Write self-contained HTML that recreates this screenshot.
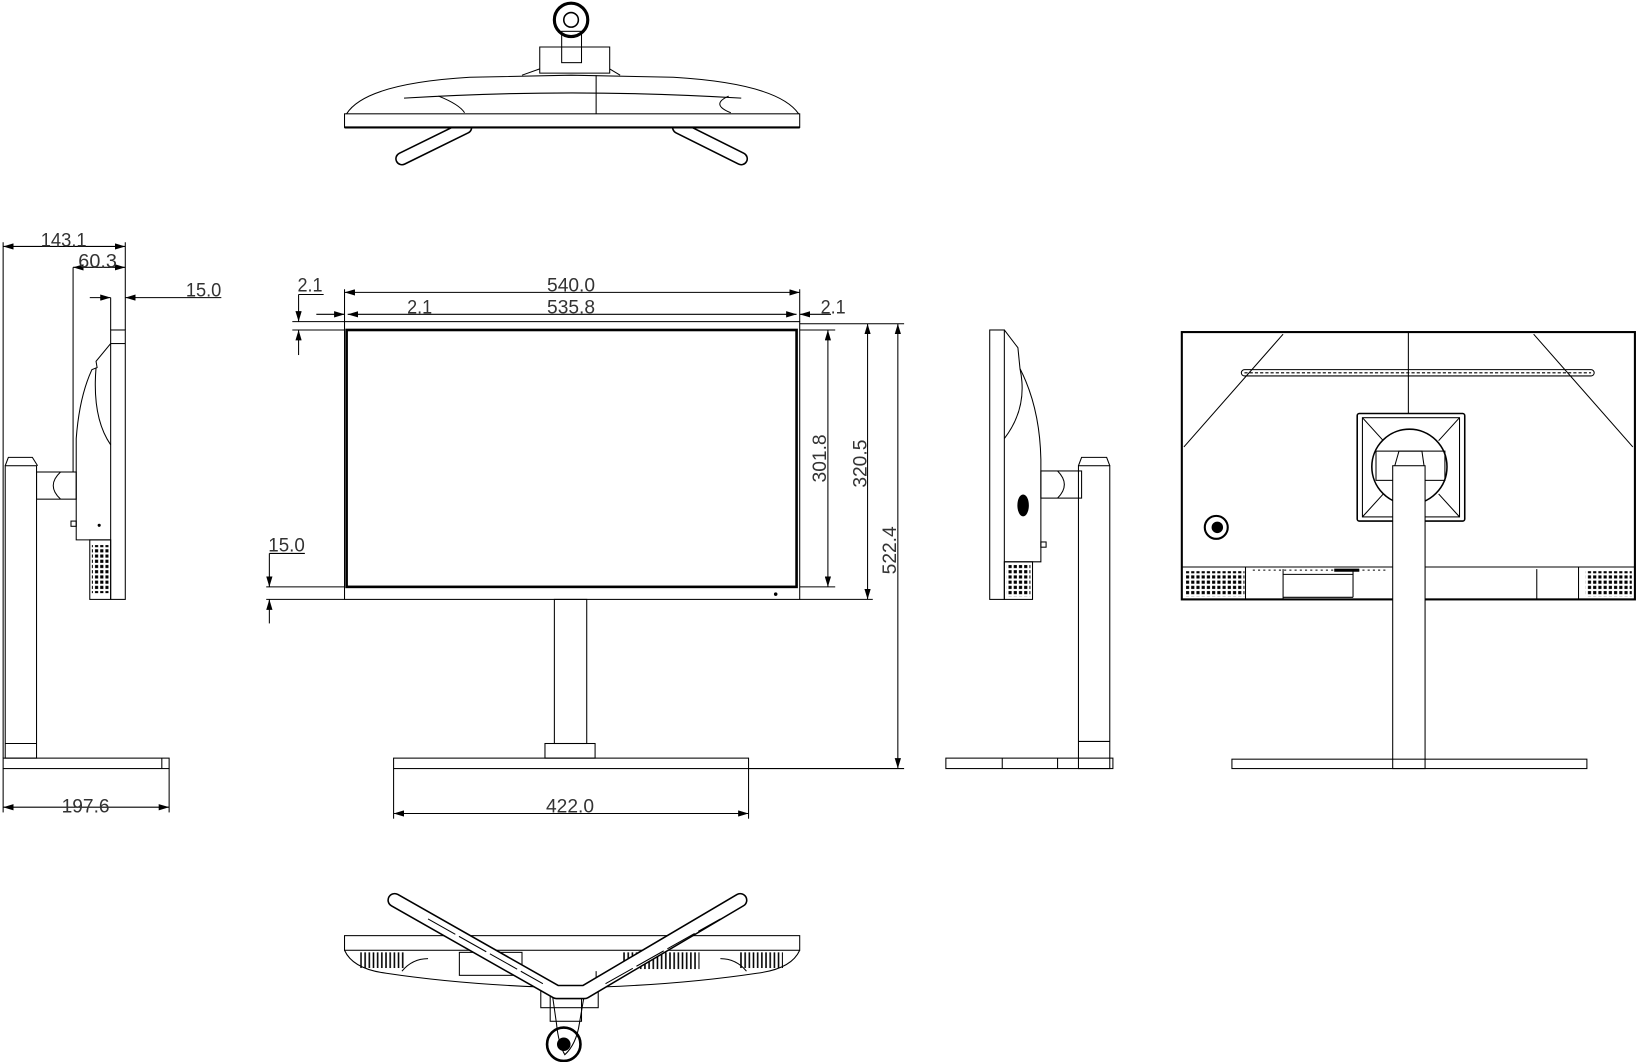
<!DOCTYPE html>
<html><head><meta charset="utf-8"><style>
html,body{margin:0;padding:0;background:#fff;width:1637px;height:1062px;overflow:hidden}
svg{display:block}
text{font-family:"Liberation Sans",sans-serif;font-size:19px;fill:#333}
</style></head><body>
<svg width="1637" height="1062" viewBox="0 0 1568 1017" preserveAspectRatio="none" xmlns="http://www.w3.org/2000/svg">
<defs>
<marker id="a" viewBox="0 0 10 6" refX="10" refY="3" markerWidth="10" markerHeight="6" orient="auto-start-reverse" markerUnits="userSpaceOnUse"><path d="M0,0L10,3L0,6z" fill="#000"/></marker>
<pattern id="dots" width="5" height="5" patternUnits="userSpaceOnUse"><rect x="1" y="1" width="3" height="3" fill="#000"/></pattern>
<pattern id="vl" width="4" height="5" patternUnits="userSpaceOnUse"><rect x="1" y="0" width="1.5" height="5" fill="#000"/></pattern>
</defs>
<g fill="none" stroke="#000" stroke-width="1">

<!-- TOP VIEW -->
<path d="M446 122 L385 152" stroke-width="13" stroke-linecap="round"/>
<path d="M446 122 L385 152" stroke-width="10" stroke-linecap="round" stroke="#fff"/>
<path d="M650 122 L710 152" stroke-width="13" stroke-linecap="round"/>
<path d="M650 122 L710 152" stroke-width="10" stroke-linecap="round" stroke="#fff"/>
<circle cx="547" cy="19" r="16" stroke-width="3"/>
<circle cx="547" cy="19" r="7" stroke-width="1.5"/>
<rect x="538" y="30" width="19" height="30"/>
<path d="M517 45 H584 V70 H517 Z"/>
<path d="M500 72 L517 66 M594 72 L584 66"/>
<path d="M332 109 Q350 80 450 74 L547 72 L645 74 Q745 80 765 109"/>
<path d="M387 94 Q547 84 710 94"/>
<path d="M420 92 Q440 100 445 108 M698 92 Q680 100 700 108"/>
<line x1="571" y1="72" x2="571" y2="109"/>
<rect x="330" y="109" width="436" height="13" fill="#fff"/>
<line x1="330" y1="122" x2="766" y2="122" stroke-width="2"/>

<!-- FRONT VIEW -->
<rect x="330" y="308" width="436" height="266"/>
<rect x="332" y="316" width="431" height="246" stroke-width="2.5"/>
<circle cx="743" cy="569" r="1.2" fill="#000"/>
<rect x="531" y="574" width="31" height="138"/>
<rect x="522" y="712" width="48" height="14"/>
<rect x="377" y="726" width="340" height="10"/>

<!-- dims front -->
<line x1="330" y1="280" x2="766" y2="280" marker-start="url(#a)" marker-end="url(#a)"/>
<line x1="330" y1="277" x2="330" y2="308"/>
<line x1="766" y1="277" x2="766" y2="308"/>
<line x1="333" y1="301" x2="763" y2="301" marker-start="url(#a)" marker-end="url(#a)"/>
<line x1="303" y1="301" x2="330" y2="301" marker-end="url(#a)"/>
<line x1="796" y1="301" x2="766" y2="301" marker-end="url(#a)"/>
<line x1="286" y1="282" x2="286" y2="308" marker-end="url(#a)"/>
<line x1="286" y1="340" x2="286" y2="316" marker-end="url(#a)"/>
<line x1="280" y1="308" x2="330" y2="308"/>
<line x1="280" y1="316" x2="330" y2="316"/>
<line x1="766" y1="316" x2="800" y2="316"/>
<line x1="766" y1="310" x2="866" y2="310"/>
<line x1="766" y1="562" x2="800" y2="562"/>
<line x1="766" y1="574" x2="836" y2="574"/>
<line x1="717" y1="736" x2="866" y2="736"/>
<line x1="793" y1="316" x2="793" y2="562" marker-start="url(#a)" marker-end="url(#a)"/>
<line x1="831" y1="310" x2="831" y2="574" marker-start="url(#a)" marker-end="url(#a)"/>
<line x1="860" y1="310" x2="860" y2="736" marker-start="url(#a)" marker-end="url(#a)"/>
<line x1="377" y1="736" x2="377" y2="784"/>
<line x1="717" y1="736" x2="717" y2="784"/>
<line x1="377" y1="779" x2="717" y2="779" marker-start="url(#a)" marker-end="url(#a)"/>
<line x1="258" y1="530" x2="258" y2="562" marker-end="url(#a)"/>
<line x1="258" y1="597" x2="258" y2="574" marker-end="url(#a)"/>
<line x1="258" y1="530" x2="292" y2="530"/>
<line x1="255" y1="562" x2="330" y2="562"/>
<line x1="255" y1="574" x2="330" y2="574"/>
<line x1="286" y1="282" x2="310" y2="282"/>

<!-- LEFT SIDE VIEW -->
<rect x="106" y="316" width="14" height="258"/>
<line x1="106" y1="329" x2="120" y2="329"/>
<path d="M106 329 L92 346 L93 352 L88 354 Q76 380 73 420 L73 517 L106 517"/>
<path d="M92 352 Q88 400 106 426"/>
<rect x="86" y="517" width="20" height="57"/>
<rect x="88" y="522" width="16" height="46" fill="url(#dots)" stroke="none"/>
<rect x="68" y="499" width="5" height="5"/>
<circle cx="95" cy="503" r="1" fill="#000"/>
<rect x="35" y="452" width="38" height="26"/>
<path d="M58 452 Q44 465 58 478"/>
<rect x="5" y="446" width="30" height="280"/>
<path d="M5 446 L8 438 H31 L36 446"/>
<rect x="3" y="726" width="159" height="10"/>
<line x1="5" y1="712" x2="35" y2="712"/>
<line x1="155" y1="726" x2="155" y2="736"/>
<!-- dims left -->
<line x1="3" y1="236" x2="120" y2="236" marker-start="url(#a)" marker-end="url(#a)"/>
<line x1="3" y1="232" x2="3" y2="726"/>
<line x1="120" y1="232" x2="120" y2="316"/>
<line x1="70" y1="256" x2="120" y2="256" marker-start="url(#a)" marker-end="url(#a)"/>
<line x1="70" y1="256" x2="70" y2="452"/>
<line x1="86" y1="285" x2="106" y2="285" marker-end="url(#a)"/>
<line x1="212" y1="285" x2="120" y2="285" marker-end="url(#a)"/>
<line x1="106" y1="285" x2="106" y2="316"/>
<line x1="3" y1="736" x2="3" y2="778"/>
<line x1="162" y1="736" x2="162" y2="778"/>
<line x1="3" y1="773" x2="162" y2="773" marker-start="url(#a)" marker-end="url(#a)"/>

<!-- RIGHT SIDE VIEW -->
<rect x="948" y="316" width="14" height="258"/>
<path d="M962 316 L975 333 L977 353 Q996 390 997 440 L997 538 L962 538"/>
<path d="M977 353 Q985 390 962 420"/>
<rect x="962" y="538" width="27" height="36"/>
<rect x="964" y="541" width="23" height="30" fill="url(#dots)" stroke="none"/>
<ellipse cx="980" cy="484" rx="5" ry="10" fill="#000"/>
<rect x="997" y="519" width="5" height="5"/>
<rect x="997" y="451" width="39" height="26"/>
<path d="M1013 451 Q1026 464 1013 477"/>
<rect x="1033" y="446" width="30" height="290"/>
<path d="M1033 446 L1036 438 H1060 L1063 446"/>
<line x1="1033" y1="710" x2="1063" y2="710"/>
<rect x="906" y="726" width="160" height="10"/>
<line x1="960" y1="726" x2="960" y2="736"/><line x1="1013" y1="726" x2="1013" y2="736"/>

<!-- BACK VIEW -->
<rect x="1132" y="318" width="434" height="256" stroke-width="2"/>
<line x1="1349" y1="318" x2="1349" y2="396"/>
<path d="M1229 320 L1134 428 M1469 320 L1564 428"/>
<rect x="1189" y="354" width="338" height="6" rx="3"/>
<line x1="1192" y1="357" x2="1524" y2="357" stroke-dasharray="3 2"/>
<rect x="1300" y="396" width="103" height="103" rx="2" stroke-width="1.5"/>
<rect x="1305" y="400" width="93" height="95"/>
<circle cx="1350" cy="447" r="36" stroke-width="1.5"/>
<path d="M1305 400 L1325 422 M1398 400 L1378 422 M1305 495 L1325 473 M1398 495 L1378 473"/>
<rect x="1318" y="432" width="66" height="28"/>
<path d="M1336 446 L1340 432 H1362 L1364 446"/>
<circle cx="1165" cy="505" r="11" stroke-width="2"/>
<circle cx="1166" cy="505" r="5" fill="#000"/>
<line x1="1132" y1="543" x2="1566" y2="543"/>
<rect x="1136" y="547" width="56" height="24" fill="url(#dots)" stroke="none"/>
<rect x="1519" y="547" width="44" height="24" fill="url(#dots)" stroke="none"/>
<line x1="1193" y1="543" x2="1193" y2="574"/>
<line x1="1229" y1="545" x2="1229" y2="574"/>
<line x1="1229" y1="550" x2="1296" y2="550"/>
<line x1="1229" y1="572" x2="1296" y2="572"/>
<line x1="1296" y1="545" x2="1296" y2="572"/>
<line x1="1472" y1="545" x2="1472" y2="574"/>
<line x1="1512" y1="543" x2="1512" y2="574"/>
<line x1="1200" y1="546" x2="1330" y2="546" stroke-dasharray="2 3"/>
<line x1="1278" y1="546" x2="1302" y2="546" stroke-width="3"/>
<rect x="1334" y="446" width="31" height="290" fill="#fff"/>
<rect x="1180" y="727" width="340" height="9"/>

<!-- BOTTOM VIEW -->
<rect x="330" y="896" width="436" height="14"/>
<path d="M330 910 Q338 928 370 932 Q450 944 548 946 Q645 944 725 932 Q758 928 766 910"/>
<path d="M410 918 Q395 918 385 930 M690 918 Q705 918 715 930"/>
<rect x="345" y="912" width="42" height="15" fill="url(#vl)" stroke="none"/>
<rect x="708" y="912" width="42" height="15" fill="url(#vl)" stroke="none"/>
<rect x="595" y="912" width="75" height="16" fill="url(#vl)" stroke="none"/>
<rect x="440" y="912" width="60" height="22"/>
<line x1="571" y1="930" x2="571" y2="946"/>
<rect x="518" y="945" width="55" height="20"/>
<path d="M528 945 L533 980 Q535 1000 541 1010 Q552 1000 555 980 L561 945"/>
<circle cx="540" cy="1000" r="16" stroke-width="2.5"/>
<circle cx="540" cy="1000" r="6" fill="#000"/>
<rect x="527" y="948" width="30" height="30"/>
<path d="M378 862 L533 950 L560 950 L709 862" stroke-width="14" stroke-linecap="round" stroke-linejoin="round"/>
<path d="M378 862 L533 950 L560 950 L709 862" stroke-width="11" stroke-linecap="round" stroke-linejoin="round" stroke="#fff"/>
<path d="M410 880 L520 942 M580 942 L690 880" stroke-dasharray="30 4"/>
</g>

<!-- labels -->
<text x="39" y="236" textLength="44" lengthAdjust="spacingAndGlyphs">143.1</text>
<text x="75" y="256" textLength="37" lengthAdjust="spacingAndGlyphs">60.3</text>
<text x="178" y="284" textLength="34" lengthAdjust="spacingAndGlyphs">15.0</text>
<text x="285" y="279" textLength="24" lengthAdjust="spacingAndGlyphs">2.1</text>
<text x="524" y="279" textLength="46" lengthAdjust="spacingAndGlyphs">540.0</text>
<text x="390" y="300" textLength="24" lengthAdjust="spacingAndGlyphs">2.1</text>
<text x="524" y="300" textLength="46" lengthAdjust="spacingAndGlyphs">535.8</text>
<text x="786" y="300" textLength="24" lengthAdjust="spacingAndGlyphs">2.1</text>
<text x="257" y="528" textLength="35" lengthAdjust="spacingAndGlyphs">15.0</text>
<text x="59" y="778" textLength="46" lengthAdjust="spacingAndGlyphs">197.6</text>
<text x="523" y="778" textLength="46" lengthAdjust="spacingAndGlyphs">422.0</text>
<text transform="translate(791,462) rotate(-90)" textLength="46" lengthAdjust="spacingAndGlyphs">301.8</text>
<text transform="translate(830,467) rotate(-90)" textLength="46" lengthAdjust="spacingAndGlyphs">320.5</text>
<text transform="translate(858,550) rotate(-90)" textLength="46" lengthAdjust="spacingAndGlyphs">522.4</text>
</svg>
</body></html>
